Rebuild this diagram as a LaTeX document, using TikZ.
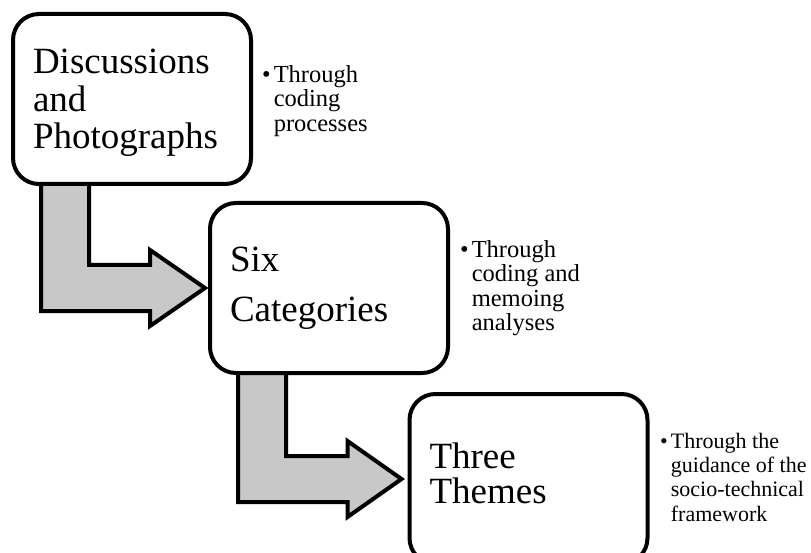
\documentclass[tikz,border=0pt]{standalone}
\usepackage{fontspec}
\setmainfont{Liberation Serif}
\usetikzlibrary{calc}
\usetikzlibrary{backgrounds}
\definecolor{arrowgray}{RGB}{200,200,200}

\begin{document}
\begin{tikzpicture}[x=1pt, y=-1pt,
    stage/.style={draw, line width=4pt, rounded corners=26pt, fill=white,
      outer sep=0pt, align=left, text width=198pt, inner xsep=20pt,
      inner ysep=0pt, minimum height=170pt},
    blockarrow/.style={draw, line width=4pt, fill=arrowgray, line join=miter},
    note/.style={anchor=north west, inner sep=0pt,
      font=\fontsize{24.5}{24.5}\selectfont}]
      \path[use as bounding box, clip] (0,0) rectangle (811,553);

      \draw (132,99) node[stage, text depth=75pt,
        font=\fontsize{37}{37.5}\selectfont] (disc)
        {Discussions\\and\\Photographs};
      \draw (329,288) node[stage, font=\fontsize{37}{50}\selectfont] (cat)
        {Six\\Categories};
      \draw (528.5,479) node[stage, text depth=47pt,
        font=\fontsize{37}{35}\selectfont] (theme) {Three\\Themes};

      \draw (262,65) node[note] (how1)
        {\begin{tabular}{@{}l@{\hspace{3pt}}l@{}}\textbullet & Through\\
          & coding\\ & processes\end{tabular}};
      \draw (460,240) node[note] (how2)
        {\begin{tabular}{@{}l@{\hspace{3pt}}l@{}}\textbullet & Through\\
          & coding and\\ & memoing\\ & analyses\end{tabular}};
      \draw (660,431) node[note, font=\fontsize{22}{24.3}\selectfont] (how3)
        {\begin{tabular}{@{}l@{\hspace{3pt}}l@{}}\textbullet & Through the\\
          & guidance of the\\ & socio-technical\\ & framework\end{tabular}};

      \begin{scope}[on background layer]
        \coordinate (a1) at ($(disc.south west)+(28,-4)$);
        \draw[blockarrow] (a1) -- ++(48,0) |- ($(cat.west)+(-60,-23)$)
          -- ++(0,-15) -- ($(cat.west)+(-5,0)$) -- ++(-55,38) -- ++(0,-15)
          -| (a1) -- cycle;
        \coordinate (a2) at ($(cat.south west)+(28,-4)$);
        \draw[blockarrow] (a2) -- ++(48,0) |- ($(theme.west)+(-62,-23)$)
          -- ++(0,-15) -- ($(theme.west)+(-8,0)$) -- ++(-54,38) -- ++(0,-15)
          -| (a2) -- cycle;
      \end{scope}
\end{tikzpicture}
\end{document}
